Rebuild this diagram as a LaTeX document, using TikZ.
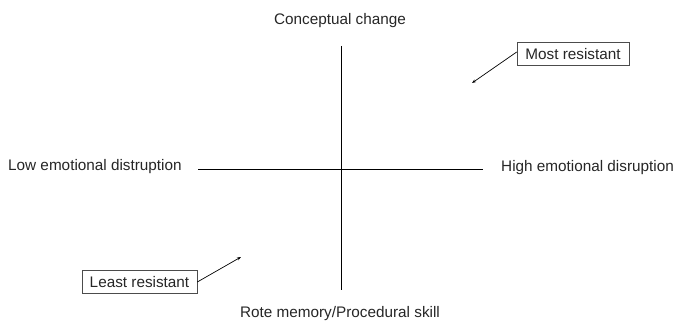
\documentclass[tikz,border=0pt]{standalone}
\usepackage{fontspec}
\setmainfont{Liberation Sans}
\usetikzlibrary{arrows.meta}
\begin{document}
\begin{tikzpicture}[x=1pt,y=-1pt,
  lbl/.style={font=\fontsize{15.3}{17}\selectfont, inner sep=0pt, text=black!85},
  boxlbl/.style={draw=black!70, line width=0.6pt, font=\fontsize{15.3}{17}\selectfont, inner sep=0pt, text=black!85},
  axis/.style={line width=0.9pt},
  pointer/.style={line width=0.7pt, -{Stealth[length=4pt,width=3pt]}}]
\useasboundingbox (0,0) rectangle (678,321);
\coordinate (top) at (341,46);
\coordinate (bot) at (341,290);
\coordinate (lft) at (198,169);
\coordinate (rgt) at (483,169);
\draw[axis] (top) -- (bot);
\draw[axis] (lft) -- (rgt);
\node[lbl] (cc) at (340,21) {Conceptual change};
\node[lbl] (rm) at (340,314) {Rote memory/Procedural skill};
\node[lbl, anchor=west] (low) at (8,167) {Low emotional distruption};
\node[lbl, anchor=west] (high) at (501,168) {High emotional disruption};
\node[boxlbl, minimum width=112pt, minimum height=23pt] (most) at (573,54) {Most resistant};
\node[boxlbl, minimum width=115pt, minimum height=23pt] (least) at (139.5,282) {Least resistant};
\coordinate (mostend) at (472,83);
\coordinate (leastend) at (241,257);
\draw[pointer] ([yshift=2pt]most.west) -- (mostend);
\draw[pointer] (least.east) -- (leastend);
\end{tikzpicture}
\end{document}
